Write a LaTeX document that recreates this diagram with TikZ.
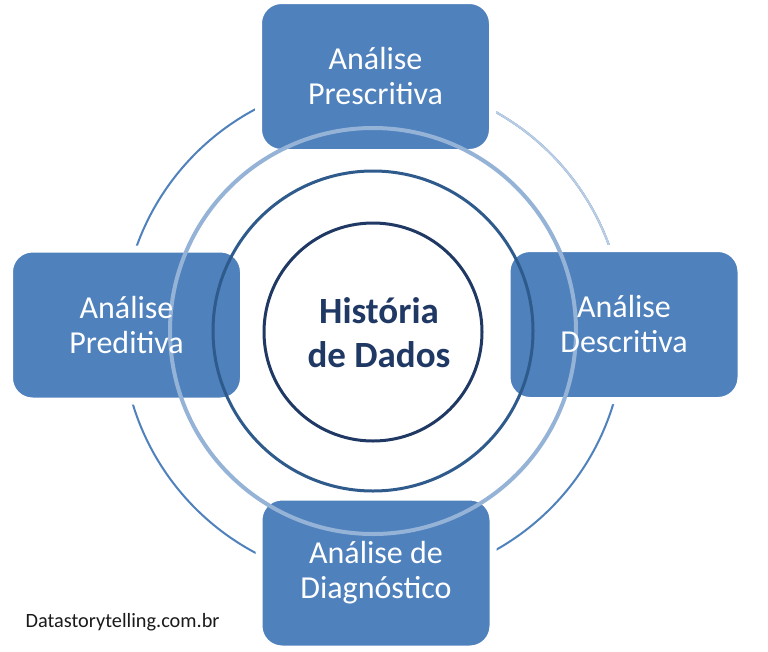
\documentclass[tikz,border=0pt]{standalone}
\usepackage{fontspec}
\setmainfont{Carlito}
\usepackage{tikz}
\definecolor{caixaazul}{HTML}{4F81BD}
\definecolor{anelclaro}{HTML}{95B3D7}
\definecolor{anelmedio}{HTML}{2E5A8C}
\definecolor{azulescuro}{HTML}{1F3864}
\definecolor{arcoclaro}{HTML}{B9CDE5}
\definecolor{rodape}{HTML}{1A1A1A}

\begin{document}
\begin{tikzpicture}[x=1pt,y=1pt,
  caixa/.style={fill=caixaazul, draw=white, line width=7pt, rounded corners=23pt, minimum width=234pt, minimum height=152pt},
  rotulo/.style={text=white, align=center, font=\fontsize{32}{35}\selectfont}]
\useasboundingbox[fill=white] (0,0) rectangle (768,-651);
\coordinate (centro) at (373,-331);
\draw[caixaazul, line width=2pt] (centro) circle[radius=251];
\draw[arcoclaro, line width=2pt] ([shift={(0:251)}]centro) arc[start angle=0, end angle=90, radius=251];
\node[caixa] (presc) at (375.5,-76.5) {};
\node[caixa] (pred) at (126.5,-325) {};
\node[caixa] (desc) at (624,-324.5) {};
\node[caixa] (diag) at (376,-573) {};
\draw[anelclaro, line width=4pt] (centro) circle[radius=203];
\draw[anelmedio, line width=3pt] (centro) circle[radius=160];
\node[circle, draw=azulescuro, line width=3pt, fill=white, minimum size=218pt] (historia) at (373,-332) {};
\node[text=azulescuro, align=center, font=\fontsize{37}{44}\selectfont\bfseries] (thistoria) at (379,-333) {História\\de Dados};
\node[rotulo] (tpresc) at (presc) {Análise\\Prescritiva};
\node[rotulo] (tpred) at (pred) {Análise\\Preditiva};
\node[rotulo] (tdesc) at (desc) {Análise\\Descritiva};
\node[rotulo] (tdiag) at (diag) {Análise de\\Diagnóstico};
\node[anchor=base west, text=rodape, font=\fontsize{20.3}{24}\selectfont] (site) at (22,-627) {Datastorytelling.com.br};
\end{tikzpicture}
\end{document}
